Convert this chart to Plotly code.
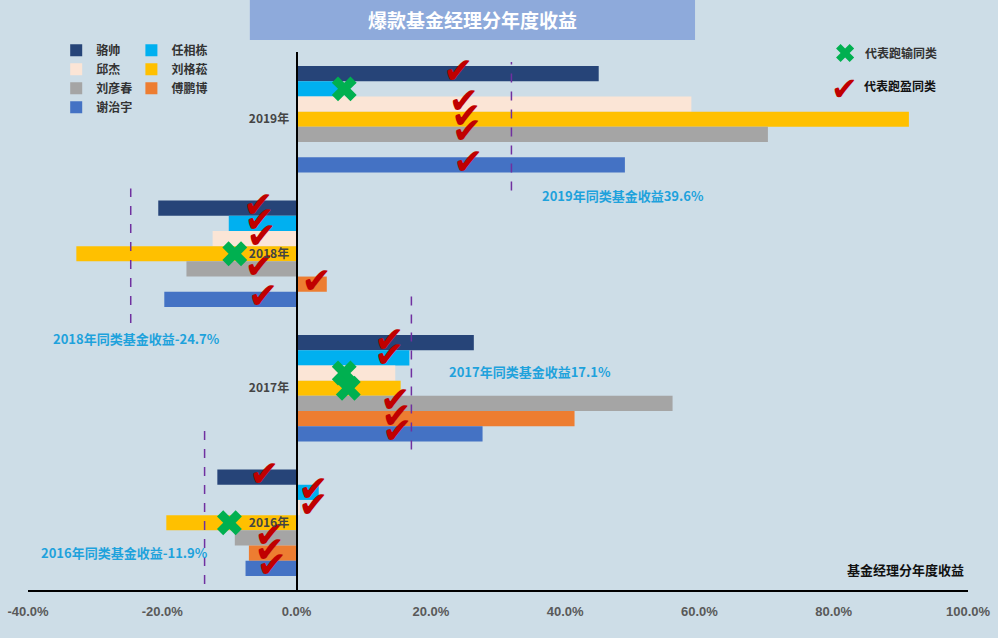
import plotly.graph_objects as go

# ---------------- data ----------------
years = ["2019年", "2018年", "2017年", "2016年"]
managers = ["骆帅", "任相栋", "邱杰", "刘格菘", "刘彦春", "傅鹏博", "谢治宇"]
colors = ["#264478", "#00b0f0", "#fbe5d6", "#ffc000", "#a5a5a5", "#ed7d31", "#4472c4"]

# returns (%) per manager, in order of years [2019, 2018, 2017, 2016]
ret_luoshuai = [45.0, -20.6, 26.4, -11.8]
ret_renxiangdong = [6.7, -10.1, 16.8, 3.3]
ret_qiujie = [58.8, -12.5, 14.7, 0.5]
ret_liugesong = [91.2, -32.8, 15.5, -19.4]
ret_liuyanchun = [70.2, -16.4, 56.0, -9.2]
ret_fupengbo = [None, 4.5, 41.4, -7.1]
ret_xiezhiyu = [48.9, -19.7, 27.7, -7.6]
returns = [ret_luoshuai, ret_renxiangdong, ret_qiujie, ret_liugesong,
           ret_liuyanchun, ret_fupengbo, ret_xiezhiyu]

# peer benchmark per year
bench_label = [39.6, -24.7, 17.1, -11.9]
bench_line_x = [32.0, -24.7, 17.1, -13.7]

# mark per manager per year: "c" = beat peers (check), "x" = lost to peers
marks_2019 = ["c", "x", "c", "c", "c", None, "c"]
marks_2018 = ["c", "c", "c", "x", "c", "c", "c"]
marks_2017 = ["c", "c", "x", "x", "c", "c", "c"]
marks_2016 = ["c", "c", "c", "x", "c", "c", "c"]
marks = [marks_2019, marks_2018, marks_2017, marks_2016]
mark_x_2019 = [24.1, 7.1, 24.9, 25.3, 25.4, None, 25.6]
mark_x_2018 = [-5.7, -5.5, -5.2, -9.2, -5.5, 3.0, -5.0]
mark_x_2017 = [13.8, 13.8, 7.1, 7.7, 14.7, 14.9, 15.0]
mark_x_2016 = [-4.8, 2.5, 2.5, -10.0, -4.0, -4.0, -3.7]
mark_x = [mark_x_2019, mark_x_2018, mark_x_2017, mark_x_2016]

x_ticks = [-40, -20, 0, 20, 40, 60, 80, 100]

# ---------------- layout helpers ----------------
group_pos = [3, 2, 1, 0]          # numeric centre of each year group
bar_w = 0.113
def offset(i):
    return (3 - i) * bar_w

fig = go.Figure()

for i, (name, col, vals) in enumerate(zip(managers, colors, returns)):
    ys = [g + offset(i) for g in group_pos]
    fig.add_trace(go.Bar(
        x=vals, y=ys, orientation="h", name=name, width=bar_w,
        marker=dict(color=col, line=dict(width=0)),
        legend="legend" if i % 2 == 0 else "legend2",
        hovertemplate=name + ": %{x:.1f}%<extra></extra>",
    ))

cx, cy, xx, xy = [], [], [], []
for gi, g in enumerate(group_pos):
    for i in range(len(managers)):
        m = marks[gi][i]
        if m is None:
            continue
        if m == "c":
            cx.append(mark_x[gi][i]); cy.append(g + offset(i))
        else:
            xx.append(mark_x[gi][i]); xy.append(g + offset(i))

fig.add_trace(go.Scatter(
    x=cx, y=cy, mode="text", text=["✔"] * len(cx),
    textfont=dict(color="#c00000", size=36, family="DejaVu Sans"),
    showlegend=False, hoverinfo="skip"))
fig.add_trace(go.Scatter(
    x=xx, y=xy, mode="markers", name="代表跑输同类",
    marker=dict(symbol="x", size=22, color="#00b050", line=dict(width=0)),
    legend="legend3", hoverinfo="skip"))

# benchmark dashed lines
line_spans = [(0.425, -0.53), (0.485, -0.515), (0.687, -0.455), (0.694, -0.455)]
for gi, g in enumerate(group_pos):
    top, bot = line_spans[gi]
    fig.add_shape(type="line", x0=bench_line_x[gi], x1=bench_line_x[gi],
                  y0=g + bot, y1=g + top, xref="x", yref="y",
                  line=dict(color="#7030a0", width=1.5, dash="dash"))

# benchmark labels
label_pos = [(48.6, 2.433), (-23.8, 1.373), (34.7, 1.127), (-25.6, -0.224)]
for gi in range(4):
    v = bench_label[gi]
    fig.add_annotation(x=label_pos[gi][0], y=label_pos[gi][1], xref="x", yref="y",
                       text=f"<b>{years[gi]}同类基金收益{v:.1f}%</b>", showarrow=False,
                       xanchor="center", yanchor="middle",
                       font=dict(color="#1ea2dc", size=13, family="Noto Sans CJK SC"))

# title box
fig.add_shape(type="rect", xref="paper", yref="paper", x0=0.236, x1=0.7096,
              y0=1.0223, y1=1.0966, fillcolor="#8eaadb", line=dict(width=0), layer="below")
fig.add_annotation(xref="paper", yref="paper", x=0.473, y=1.061, showarrow=False,
                   xanchor="center", yanchor="middle",
                   text="<b>爆款基金经理分年度收益</b>",
                   font=dict(color="white", size=19, family="Noto Sans CJK SC"))

# check legend (symbol + text)
fig.add_annotation(xref="paper", yref="paper", x=0.869, y=0.931, xanchor="center", yanchor="middle",
                   showarrow=False, text="✔",
                   font=dict(color="#c00000", size=32, family="DejaVu Sans"))
fig.add_annotation(xref="paper", yref="paper", x=0.887, y=0.937, xanchor="left", yanchor="middle",
                   showarrow=False, text="<b>代表跑盈同类</b>",
                   font=dict(color="#111", size=12, family="Noto Sans CJK SC"))

# axis caption
fig.add_annotation(xref="paper", yref="paper", x=0.933, y=0.039, showarrow=False,
                   xanchor="center", yanchor="middle",
                   text="<b>基金经理分年度收益</b>",
                   font=dict(color="#111", size=13, family="Noto Sans CJK SC"))

legend_common = dict(font=dict(size=12, color="#333", family="Noto Sans CJK SC", weight="bold"),
                     bgcolor="rgba(0,0,0,0)", tracegroupgap=0, itemwidth=30,
                     xanchor="left", yanchor="top", traceorder="normal")

fig.update_layout(
    width=998, height=638,
    margin=dict(l=28, r=30, t=52, b=48, autoexpand=False),
    paper_bgcolor="#cddde7", plot_bgcolor="#cddde7",
    barmode="overlay",
    showlegend=True,
    legend=dict(x=0.03, y=1.03, **legend_common),
    legend2=dict(x=0.11, y=1.03, **legend_common),
    legend3=dict(x=0.848, y=1.025, itemsizing="trace", **{k: v for k, v in legend_common.items() if k != "itemwidth"}),
    xaxis=dict(range=[-40, 100], tickvals=x_ticks, ticktext=[f"{t:.1f}%" for t in x_ticks],
               showgrid=False, zeroline=False, showline=True, linecolor="black", linewidth=2,
               tickfont=dict(size=13, color="#595959", family="Liberation Sans Narrow, Liberation Sans", weight="bold"),
               ticks="", ticklabelstandoff=8, fixedrange=True),
    yaxis=dict(range=[-0.5, 3.5], tickvals=group_pos, ticktext=years,
               anchor="free", position=40 / 140, showgrid=False, zeroline=False,
               showline=True, linecolor="black", linewidth=2, ticks="",
               tickfont=dict(size=12, color="#444", family="Noto Sans CJK SC", weight="bold"),
               ticklabelstandoff=4, fixedrange=True),
)

fig.write_html("out.html", config={"displayModeBar": False},
               post_script="document.body.style.margin='0';document.body.style.background='#cddde7';")
